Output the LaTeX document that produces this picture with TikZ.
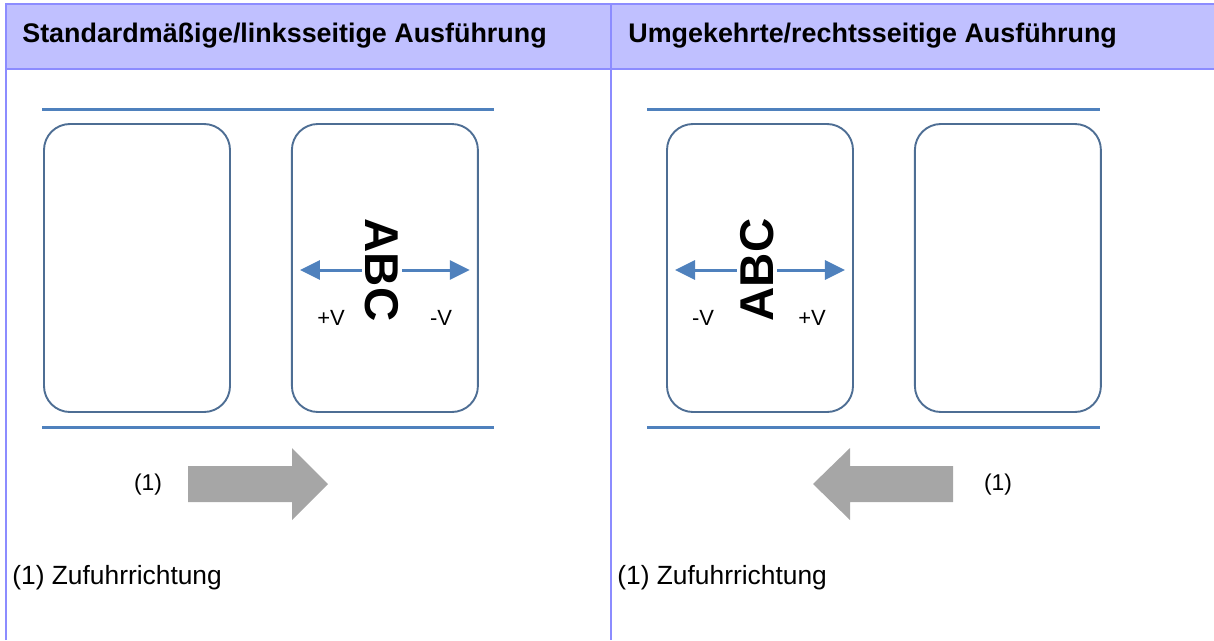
\documentclass[tikz,border=0pt]{standalone}
\usepackage{fontspec}
\setmainfont{Liberation Sans}
\usetikzlibrary{arrows.meta, positioning}
\definecolor{tblline}{HTML}{8C8CFF}
\definecolor{tblfill}{HTML}{C0C0FF}
\definecolor{webblue}{HTML}{4F81BD}
\definecolor{boxline}{HTML}{4E6E94}
\definecolor{feedgray}{HTML}{A6A6A6}
\tikzset{
  tblrule/.style={draw=tblline, line width=0.45mm},
  headtext/.style={anchor=west, inner sep=0pt, font=\bfseries\fontsize{15.3}{18}\selectfont},
  captext/.style={anchor=west, inner sep=0pt, font=\fontsize{15}{18}\selectfont},
  feedline/.style={draw=webblue, line width=0.6mm},
  labelbox/.style={draw=boxline, line width=0.38mm, rounded corners=5.2mm,
    minimum width=37.2mm, minimum height=57.6mm, inner sep=0pt},
  abctext/.style={inner sep=0.6mm, font=\bfseries\fontsize{27}{30}\selectfont},
  varrow/.style={draw=webblue, line width=0.6mm, -{Triangle[length=4mm, width=3.8mm]}, shorten >=1.8mm},
  vlabel/.style={inner sep=0pt, font=\fontsize{12.5}{14}\selectfont},
  numlabel/.style={inner sep=0pt, font=\fontsize{13}{15}\selectfont},
}

\begin{document}
\begin{tikzpicture}[x=0.2mm, y=-0.2mm]
  \useasboundingbox (0,0) rectangle (1214,640);
  % table frame
  \fill[tblfill] (6,4) rectangle (1214,69);
  \draw[tblrule] (6,640) -- (6,4) -- (1214,4);
  \draw[tblrule] (6,69) -- (1214,69);
  \draw[tblrule] (611,4) -- (611,640);
  \node[headtext] (headL) at (22,36) {Standardmäßige/linksseitige Ausführung};
  \node[headtext] (headR) at (628,36) {Umgekehrte/rechtsseitige Ausführung};

  % standard / left
  \draw[feedline] (42,109) -- (494,109);
  \draw[feedline] (42,427) -- (494,427);
  \node[labelbox] (boxL1) at (137,268) {};
  \node[labelbox, right=12mm of boxL1] (boxL2) {};
  \node[abctext, rotate=-90] (abcL) at (382,270) {ABC};
  \draw[varrow] (abcL.south) -- (abcL.south -| boxL2.west);
  \draw[varrow] (abcL.north) -- (abcL.north -| boxL2.east);
  \node[vlabel] (plusL) at (331,318) {+V};
  \node[vlabel] (minusL) at (441,318) {-V};
  \fill[feedgray] (188,466) -- (292,466) -- (292,448) -- (328,484) -- (292,520) -- (292,502) -- (188,502) -- cycle;
  \node[numlabel] (numL) at (148,485) {(1)};
  \node[captext] (capL) at (12,578) {(1) Zufuhrrichtung};

  % reverse / right
  \draw[feedline] (647,109) -- (1100,109);
  \draw[feedline] (647,427) -- (1100,427);
  \node[labelbox] (boxR1) at (760,268) {};
  \node[labelbox, right=12mm of boxR1] (boxR2) {};
  \node[abctext, rotate=90] (abcR) at (757,270) {ABC};
  \draw[varrow] (abcR.north) -- (abcR.north -| boxR1.west);
  \draw[varrow] (abcR.south) -- (abcR.south -| boxR1.east);
  \node[vlabel] (minusR) at (703,318) {-V};
  \node[vlabel] (plusR) at (812,318) {+V};
  \fill[feedgray] (953,466) -- (850,466) -- (850,448) -- (813,484) -- (850,520) -- (850,502) -- (953,502) -- cycle;
  \node[numlabel] (numR) at (998,485) {(1)};
  \node[captext] (capR) at (617,578) {(1) Zufuhrrichtung};
\end{tikzpicture}
\end{document}
